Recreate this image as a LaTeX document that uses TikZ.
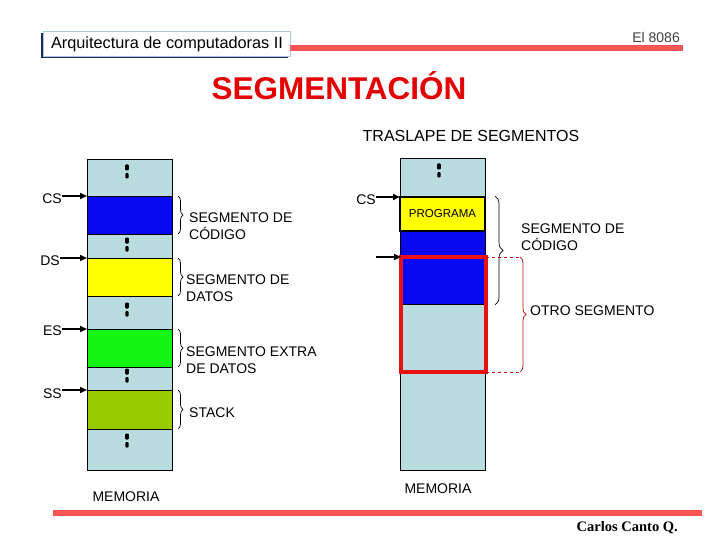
\documentclass[tikz,border=0pt]{standalone}
\usepackage{fontspec}
\setmainfont{Liberation Sans}
\newfontfamily\autorfont{Liberation Serif}
\usetikzlibrary{positioning,arrows.meta,decorations.pathreplacing}

\definecolor{memgray}{RGB}{184,220,224}
\definecolor{memblue}{RGB}{8,8,240}
\definecolor{memyellow}{RGB}{255,255,0}
\definecolor{memgreen}{RGB}{20,245,20}
\definecolor{memolive}{RGB}{153,204,0}
\definecolor{barred}{RGB}{250,85,85}
\definecolor{boxred}{RGB}{232,16,16}
\definecolor{titlered}{RGB}{228,0,0}
\definecolor{hdrnavy}{RGB}{30,40,90}
\definecolor{hdrborder}{RGB}{170,200,215}

\newcommand{\bodyfont}{\fontsize{14}{17}\selectfont}

\tikzset{
  memblk/.style={draw, line width=0.8pt, minimum width=85pt, inner sep=0pt, outer sep=0pt, anchor=north west},
  lbl/.style={inner sep=0pt, font=\bodyfont},
  regarrow/.style={line width=2pt, -{Triangle[length=7pt,width=6pt]}},
  segbrace/.style={decorate, decoration={brace, amplitude=5pt}, line width=0.7pt},
  memdots/.pic={\fill[rounded corners=1pt] (-1.7,-6.5) rectangle (1.7,-1); \fill[rounded corners=1pt] (-1.8,1.5) rectangle (1.8,7.5);}
}

\begin{document}
\begin{tikzpicture}[x=1pt,y=1pt,yscale=-1]
\useasboundingbox (0,0) rectangle (720,540);

% encabezado
\fill[hdrnavy] (41,33) rectangle (288,58);
\node[draw=hdrborder, fill=white, line width=1pt, minimum width=247pt, minimum height=25pt, anchor=north west, inner sep=0pt, font=\fontsize{16.3}{18}\selectfont] (hdr) at (43,31) {Arquitectura de computadoras II};
\fill[barred] (290,45) rectangle (683,51);
\node[anchor=east, inner sep=0pt, text=black!75, font=\bodyfont] (tema) at (680,37) {El 8086};

% titulo
\node[anchor=base, inner sep=0pt, text=titlered, font=\fontsize{31.5}{35}\selectfont\bfseries] (titulo) at (339,100) {SEGMENTACIÓN};
\node[inner sep=0pt, font=\fontsize{16}{18}\selectfont] (trasl) at (471,136) {TRASLAPE DE SEGMENTOS};

% memoria izquierda
\node[memblk, fill=memgray, minimum height=37pt] (g1) at (87,159) {};
\node[memblk, fill=memblue, minimum height=38pt, below=0pt of g1] (cs) {};
\node[memblk, fill=memgray, minimum height=24pt, below=0pt of cs] (g2) {};
\node[memblk, fill=memyellow, minimum height=38pt, below=0pt of g2] (ds) {};
\node[memblk, fill=memgray, minimum height=33pt, below=0pt of ds] (g3) {};
\node[memblk, fill=memgreen, minimum height=38pt, below=0pt of g3] (es) {};
\node[memblk, fill=memgray, minimum height=23pt, below=0pt of es] (g4) {};
\node[memblk, fill=memolive, minimum height=39pt, below=0pt of g4] (ss) {};
\node[memblk, fill=memgray, minimum height=41pt, below=0pt of ss] (g5) {};

\pic at (127,172) {memdots};
\pic at (127,245) {memdots};
\pic at (127,310) {memdots};
\pic at (127,376) {memdots};
\pic at (127,441) {memdots};

\node[lbl, anchor=east] (lcs) at (62,199) {CS};
\node[lbl, anchor=east] (lds) at (60,261) {DS};
\node[lbl, anchor=east] (les) at (62,331) {ES};
\node[lbl, anchor=east] (lss) at (62,394) {SS};
\draw[regarrow] (lcs.east |- cs.north west) -- (cs.north west);
\draw[regarrow] (lds.east |- ds.north west) -- (ds.north west);
\draw[regarrow] (les.east |- es.north west) -- (es.north west);
\draw[regarrow] (lss.east |- ss.north west) -- (ss.north west);

\draw[segbrace] ([xshift=6pt]cs.north east) -- ([xshift=6pt]cs.south east);
\draw[segbrace] ([xshift=6pt]ds.north east) -- ([xshift=6pt]ds.south east);
\draw[segbrace] ([xshift=6pt]es.north east) -- ([xshift=6pt]es.south east);
\draw[segbrace] ([xshift=6pt]ss.north east) -- ([xshift=6pt]ss.south east);

\node[lbl, anchor=west, align=left] (tcs) at (189,226) {SEGMENTO DE\\CÓDIGO};
\node[lbl, anchor=west, align=left] (tds) at (186,288) {SEGMENTO DE\\DATOS};
\node[lbl, anchor=west, align=left] (tes) at (186,360) {SEGMENTO EXTRA\\DE DATOS};
\node[lbl, anchor=west, align=left] (tss) at (189,413) {STACK};

\node[lbl] (mem1) at (126,497) {MEMORIA};

% memoria derecha
\node[memblk, fill=memgray, minimum height=39pt] (rg1) at (400,158) {};
\node[memblk, fill=memyellow, line width=1.4pt, minimum height=34pt, below=0pt of rg1, font=\fontsize{11.5}{13}\selectfont] (prog) {PROGRAMA};
\node[memblk, fill=memblue, minimum height=73pt, below=0pt of prog] (rblue) {};
\node[memblk, fill=memgray, minimum height=166pt, below=0pt of rblue] (rg2) {};
\node[draw=boxred, line width=3.5pt, minimum width=85pt, minimum height=115pt, inner sep=0pt, outer sep=0pt, anchor=north west] (otro) at (401,257) {};

\pic at (439,171) {memdots};

\node[lbl, anchor=east] (rcs) at (376,200) {CS};
\coordinate (rds) at (376,257);
\draw[regarrow] (rcs.east |- prog.north west) -- (prog.north west);
\draw[regarrow] (rds) -- (rds -| otro.west);

\draw[segbrace, decoration={amplitude=8pt}] (495,196) -- (495,305);
\draw[boxred!80!black, dashed, line width=0.6pt] (otro.north east) -- (520,257);
\draw[boxred!80!black, dashed, line width=0.6pt] (otro.south east) -- (520,372);
\draw[segbrace, draw=boxred!80!black, decoration={amplitude=6pt}] (520,257) -- (520,372);

\node[lbl, anchor=west, align=left] (tcod) at (521,237) {SEGMENTO DE\\CÓDIGO};
\node[lbl, anchor=west] (totro) at (530,311) {OTRO SEGMENTO};

\node[lbl] (mem2) at (438,489) {MEMORIA};

% pie
\fill[barred] (53,510) rectangle (702,516);
\node[anchor=east, inner sep=0pt, font=\fontsize{14.5}{16}\selectfont\autorfont\bfseries] (autor) at (678,528) {Carlos Canto Q.};

\end{tikzpicture}
\end{document}
